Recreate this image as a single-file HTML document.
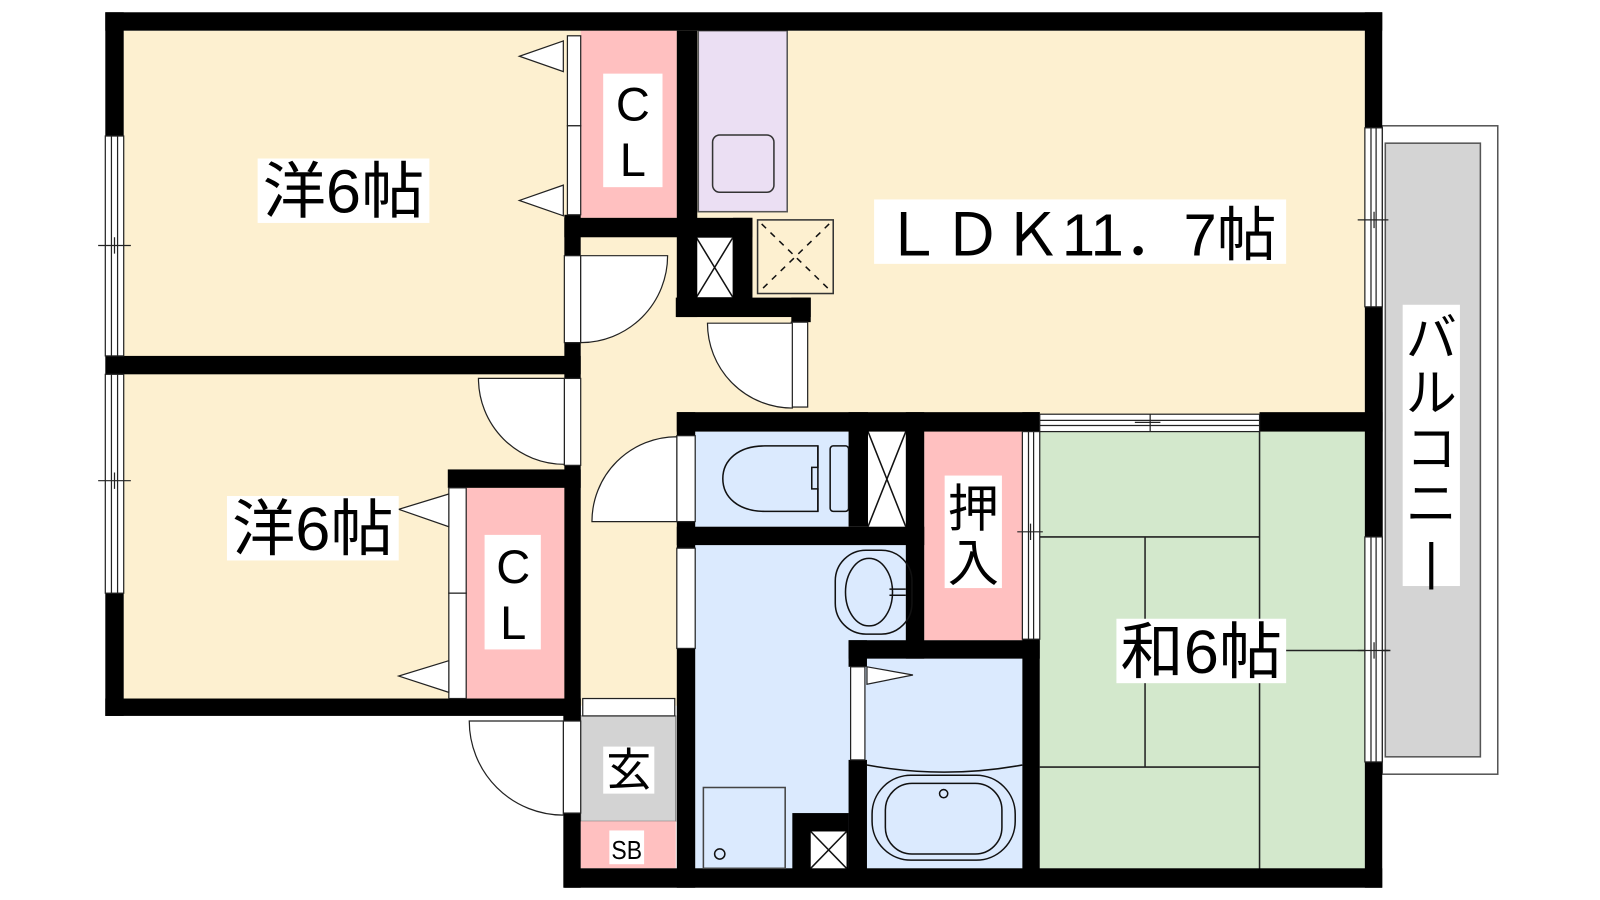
<!DOCTYPE html>
<html><head><meta charset="utf-8"><style>
html,body{margin:0;padding:0;background:#fff;width:1600px;height:900px;overflow:hidden}
svg{display:block}
text{font-family:"Liberation Sans","Noto Sans CJK JP",sans-serif;fill:#000}
</style></head><body>
<svg width="1600" height="900" viewBox="0 0 1565 880" preserveAspectRatio="none" xmlns="http://www.w3.org/2000/svg">
<rect x="0" y="0" width="1565" height="880" fill="#fff"/>
<!-- balcony -->
<rect x="1352" y="123" width="113" height="634" fill="#fff" stroke="#555" stroke-width="1.5"/>
<rect x="1355" y="140" width="93" height="600" fill="#d4d4d4" stroke="#555" stroke-width="1.5"/>
<!-- fills -->
<rect x="121" y="30" width="1214" height="403" fill="#fdf0d0"/>
<rect x="121" y="366" width="447" height="320" fill="#fdf0d0"/>
<rect x="568" y="230" width="95" height="460" fill="#fdf0d0"/>
<rect x="568" y="30" width="94" height="183" fill="#ffc0c0"/>
<rect x="683" y="30" width="87" height="177" fill="#ebdff3" stroke="#555" stroke-width="1.5"/>
<rect x="697" y="132" width="60" height="56" rx="7" fill="#ebdff3" stroke="#333" stroke-width="1.5"/>
<rect x="456" y="477" width="96" height="206" fill="#ffc0c0"/>
<rect x="680" y="422" width="150" height="93" fill="#dbeafe"/>
<rect x="680" y="533" width="206" height="318" fill="#dbeafe"/>
<rect x="848" y="644" width="152" height="207" fill="#dbeafe"/>
<rect x="904" y="422" width="96" height="204" fill="#ffc0c0"/>
<rect x="1017" y="422" width="318" height="428" fill="#d3e8cc"/>
<rect x="568" y="700" width="93" height="103" fill="#d3d3d3" stroke="#777" stroke-width="1"/>
<rect x="568" y="803" width="93" height="46" fill="#ffc0c0"/>
<!-- tatami -->
<g stroke="#222" stroke-width="1.5" fill="none">
<line x1="1232" y1="422" x2="1232" y2="850"/>
<line x1="1017" y1="525" x2="1232" y2="525"/>
<line x1="1120" y1="525" x2="1120" y2="750"/>
<line x1="1017" y1="750" x2="1232" y2="750"/>
<line x1="1250" y1="636" x2="1360" y2="636"/>
</g>
<!-- shafts -->
<rect x="681" y="232" width="36" height="59" fill="#fff" stroke="#333"/>
<path d="M681,232 L717,291 M717,232 L681,291" stroke="#111" stroke-width="1.5"/>
<rect x="741" y="215" width="74" height="72" fill="#fdf0d0" stroke="#333" stroke-width="1.5"/>
<path d="M745,219 L811,283 M811,219 L745,283" stroke="#111" stroke-width="1.5" stroke-dasharray="6,6"/>
<rect x="849" y="422" width="37" height="93" fill="#fff"/>
<path d="M849,422 L886,515 M886,422 L849,515" stroke="#111" stroke-width="1.5"/>
<!-- walls -->
<g fill="#000">
<rect x="103" y="12" width="1249" height="18"/>
<rect x="103" y="12" width="18" height="121"/>
<rect x="103" y="348" width="465" height="18"/>
<rect x="103" y="580" width="18" height="120"/>
<rect x="103" y="683" width="465" height="17"/>
<rect x="552" y="213" width="184" height="19"/>
<rect x="552" y="210" width="16" height="40"/>
<rect x="552" y="335" width="16" height="35"/>
<rect x="552" y="455" width="16" height="245"/>
<rect x="438" y="459" width="130" height="18"/>
<rect x="662" y="30" width="20" height="280"/>
<rect x="717" y="213" width="19" height="79"/>
<rect x="661" y="291" width="132" height="19"/>
<rect x="774" y="291" width="19" height="24"/>
<rect x="662" y="403" width="355" height="19"/>
<rect x="1232" y="403" width="120" height="19"/>
<rect x="662" y="403" width="18" height="23"/>
<rect x="662" y="510" width="18" height="26"/>
<rect x="662" y="515" width="242" height="18"/>
<rect x="662" y="634" width="18" height="234"/>
<rect x="830" y="403" width="19" height="112"/>
<rect x="886" y="403" width="18" height="241"/>
<rect x="830" y="626" width="187" height="18"/>
<rect x="830" y="626" width="18" height="26"/>
<rect x="830" y="743" width="18" height="108"/>
<rect x="1000" y="403" width="17" height="19"/>
<rect x="1000" y="625" width="17" height="225"/>
<rect x="1335" y="12" width="17" height="113"/>
<rect x="1335" y="300" width="17" height="225"/>
<rect x="1335" y="745" width="17" height="123"/>
<rect x="552" y="849" width="800" height="19"/>
<rect x="551" y="683" width="17" height="22"/>
<rect x="551" y="795" width="17" height="73"/>
<rect x="775" y="795" width="55" height="56"/>
</g>
<rect x="793" y="813" width="35" height="36" fill="#fff"/>
<path d="M793,813 L828,849 M828,813 L793,849" stroke="#111" stroke-width="1.5"/>
<!-- windows -->
<g fill="#fff" stroke="#222" stroke-width="1.2">
<rect x="103" y="133" width="18" height="215"/>
<rect x="103" y="366" width="18" height="214"/>
<rect x="1335" y="125" width="17" height="175"/>
<rect x="1335" y="525" width="17" height="220"/>
<rect x="1017" y="405" width="215" height="17"/>
<rect x="1000" y="422" width="17" height="203"/>
</g>
<g stroke="#222" stroke-width="1.2" fill="none">
<path d="M109,133V348 M115,133V348 M109,366V580 M115,366V580 M96,240H128 M96,470H128 M112,232V248 M112,462V478"/>
<path d="M1341,125V300 M1346,125V300 M1341,525V745 M1346,525V745 M1328,215H1358 M1328,636H1358 M1344,207V223 M1344,628V644"/>
<path d="M1017,411H1232 M1017,416H1232 M1110,413H1135 M1125,405V422"/>
<path d="M1006,422V625 M1011,422V625 M995,520H1020 M1008,512V528"/>
</g>
<!-- door strips -->
<g fill="#fff" stroke="#222" stroke-width="1.2">
<rect x="555" y="35" width="13" height="88"/>
<rect x="555" y="123" width="13" height="87"/>
<rect x="552" y="250" width="16" height="85"/>
<rect x="552" y="370" width="16" height="85"/>
<rect x="439" y="477" width="17" height="103"/>
<rect x="439" y="580" width="17" height="103"/>
<rect x="774" y="315" width="16" height="83"/>
<rect x="662" y="426" width="18" height="84"/>
<rect x="662" y="536" width="18" height="98"/>
<rect x="832" y="652" width="14" height="91"/>
<rect x="551" y="705" width="17" height="90"/>
<rect x="570" y="683" width="90" height="17"/>
<!-- door swings -->
<path d="M568,250 L653,250 A85,85 0 0 1 568,335 Z"/>
<path d="M552,370 L468,370 A84,84 0 0 0 552,454 Z"/>
<path d="M775,316 L692,316 A83,83 0 0 0 775,399 Z"/>
<path d="M662,510 L579,510 A83,83 0 0 1 662,427 Z"/>
<path d="M551,705 L459,705 A92,92 0 0 0 551,797 Z"/>
<!-- flags -->
<path d="M551,40 L508,55 L551,70 Z"/>
<path d="M551,181 L508,196 L551,211 Z"/>
<path d="M439,483 L390,498 L439,515 Z"/>
<path d="M439,646 L390,661 L439,677 Z"/>
<path d="M848,652 L893,660 L848,669 Z"/>
</g>
<!-- toilet -->
<g fill="none" stroke="#111" stroke-width="1.5">
<path d="M800,436 H748 C722,436 707,450 707,468 C707,486 722,500 748,500 H800 Z"/>
<path d="M800,436 V457 H794 V478 H800 V500"/>
<rect x="812" y="436" width="18" height="64" rx="3"/>
<rect x="817" y="538" width="75" height="82" rx="30"/>
<ellipse cx="850" cy="579" rx="23" ry="33"/>
<path d="M870,576 H886 M870,582 H886"/>
<path d="M848,748 Q923,762 1000,748"/>
<rect x="853" y="758" width="140" height="83" rx="38"/>
<rect x="866" y="766" width="114" height="69" rx="26"/>
<circle cx="923" cy="776" r="4"/>
<rect x="688" y="770" width="80" height="79" stroke="#444"/>
<circle cx="704" cy="835" r="5"/>
</g>
<!-- labels -->
<rect x="252" y="155" width="168" height="63" fill="#fff"/>
<text x="336" y="208" font-size="60" text-anchor="middle" textLength="158" lengthAdjust="spacingAndGlyphs">洋6帖</text>
<rect x="222" y="485" width="168" height="63" fill="#fff"/>
<text x="306" y="538" font-size="60" text-anchor="middle" textLength="158" lengthAdjust="spacingAndGlyphs">洋6帖</text>
<rect x="590" y="72" width="58" height="111" fill="#fff"/>
<text x="619" y="118" font-size="46" text-anchor="middle">C</text>
<text x="619" y="172" font-size="46" text-anchor="middle">L</text>
<rect x="474" y="523" width="55" height="112" fill="#fff"/>
<text x="502" y="570" font-size="46" text-anchor="middle">C</text>
<text x="502" y="625" font-size="46" text-anchor="middle">L</text>
<rect x="855" y="195" width="403" height="63" fill="#fff"/>
<text x="1056" y="250" font-size="58" text-anchor="middle" textLength="385" lengthAdjust="spacingAndGlyphs">ＬＤＫ11．7帖</text>
<rect x="924" y="465" width="56" height="110" fill="#fff"/>
<text x="952" y="515" font-size="50" text-anchor="middle">押</text>
<text x="952" y="568" font-size="50" text-anchor="middle">入</text>
<rect x="1092" y="605" width="166" height="63" fill="#fff"/>
<text x="1175" y="658" font-size="60" text-anchor="middle" textLength="158" lengthAdjust="spacingAndGlyphs">和6帖</text>
<rect x="1372" y="298" width="56" height="275" fill="#fff"/>
<text x="1400" y="348" font-size="50" text-anchor="middle">バ</text>
<text x="1400" y="402" font-size="50" text-anchor="middle">ル</text>
<text x="1400" y="456" font-size="50" text-anchor="middle">コ</text>
<text x="1400" y="510" font-size="50" text-anchor="middle">ニ</text>
<text x="1400" y="566" font-size="50" text-anchor="middle">|</text>
<rect x="590" y="730" width="50" height="46" fill="#fff"/>
<text x="615" y="768" font-size="44" text-anchor="middle">玄</text>
<rect x="596" y="812" width="34" height="33" fill="#fff"/>
<text x="613" y="840" font-size="25" text-anchor="middle" textLength="30" lengthAdjust="spacingAndGlyphs">SB</text>
</svg>
</body></html>
